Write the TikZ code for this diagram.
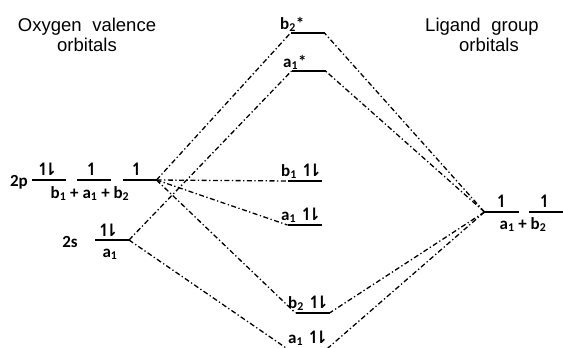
\documentclass[tikz,border=0pt]{standalone}
\usepackage{fontspec}
\setmainfont{Liberation Sans}
\newfontfamily\labelfont{Carlito}
\newfontfamily\arrowfont{DejaVu Sans}
\usetikzlibrary{positioning}

% electron arrows
\newcommand{\eup}{{\arrowfont\bfseries ↿}}
\newcommand{\epair}{{\arrowfont\bfseries ↿\kern-0.42em⇂}}

\begin{document}
\begin{tikzpicture}[
  x=1pt, y=-1pt,
  level/.style={minimum width=34pt, minimum height=0pt, inner sep=0pt, outer sep=0pt},
  lbl/.style={font=\labelfont\bfseries\fontsize{17}{19}\selectfont, inner sep=0pt},
  head/.style={font=\fontsize{18.5}{20}\selectfont, align=center, inner sep=0pt},
  mix/.style={line width=1.3pt, dash pattern=on 5pt off 2.5pt on 1.3pt off 2.5pt}
]
\useasboundingbox (0,0) rectangle (563,348);

\node[head] (oxy) at (87,35) {Oxygen\hspace{0.3em} valence\\orbitals\hspace{12pt}};
\node[head] (lig) at (482,35) {Ligand\hspace{0.3em} group\\\hspace{14pt}orbitals};

% energy levels
\node[level] (bstar) at (307.5,33) {};
\node[level] (astar) at (308.5,71) {};
\node[level] (p1) at (49,180) {};
\node[level] (p2) at (94,180) {};
\node[level] (p3) at (139.5,180) {};
\node[level] (s) at (112,240) {};
\node[level] (bnb) at (305,181) {};
\node[level] (anb) at (304.5,225) {};
\node[level] (bb) at (312.5,313) {};
\node[level] (ab) at (307.5,351) {};
\node[level] (lig1) at (501.5,212) {};
\node[level] (lig2) at (546,212) {};

\foreach \n in {bstar,astar,p1,p2,p3,s,bnb,anb,bb,ab,lig1,lig2}
  \draw[line width=1.3pt] (\n.west) -- (\n.east);

% labels
\node[lbl, anchor=base] (tp) at (19,186) {2p};
\node[lbl, anchor=base] (ts) at (70,247) {2s};
\node[lbl, anchor=base] (ep1) at (47,175) {\epair};
\node[lbl, anchor=base] (ep2) at (92,175) {\eup};
\node[lbl, anchor=base] (ep3) at (137,175) {\eup};
\node[lbl, anchor=base] (sym2p) at (90,198) {b\textsubscript{1} + a\textsubscript{1} + b\textsubscript{2}};
\node[lbl, anchor=base] (es) at (108,236) {\epair};
\node[lbl, anchor=base] (sym2s) at (110,257) {a\textsubscript{1}};
\node[lbl, anchor=base west] (tbstar) at (280,29) {b\textsubscript{2}*};
\node[lbl, anchor=base west] (tastar) at (283,67) {a\textsubscript{1}*};
\node[lbl, anchor=base west] (tbnb) at (281,176) {b\textsubscript{1} \epair};
\node[lbl, anchor=base west] (tanb) at (281,220) {a\textsubscript{1} \epair};
\node[lbl, anchor=base west] (tbb) at (288,308) {b\textsubscript{2} \epair};
\node[lbl, anchor=base west] (tab) at (288,343) {a\textsubscript{1} \epair};
\node[lbl, anchor=base] (el1) at (502,207) {\eup};
\node[lbl, anchor=base] (el2) at (545,207) {\eup};
\node[lbl, anchor=base] (symlig) at (523,229) {a\textsubscript{1} + b\textsubscript{2}};

% mixing lines
\draw[mix] (p3.east) -- (bstar.west);
\draw[mix] (p3.east) -- (bnb.west);
\draw[mix] (p3.east) -- (anb.west);
\draw[mix] (p3.east) -- (bb.west);
\draw[mix] (s.east) -- (astar.west);
\draw[mix] (s.east) -- (ab.west);
\draw[mix] (lig1.west) -- (bstar.east);
\draw[mix] (lig1.west) -- (astar.east);
\draw[mix] (lig1.west) -- (bb.east);
\draw[mix] (lig1.west) -- (ab.east);
\end{tikzpicture}
\end{document}
